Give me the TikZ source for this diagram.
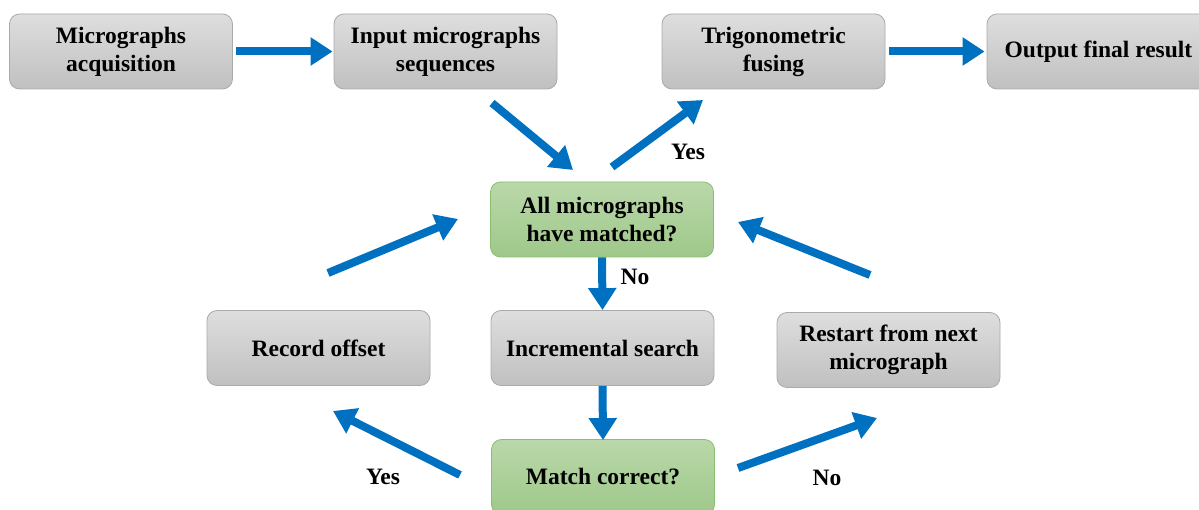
\documentclass[tikz,border=0pt]{standalone}
\usepackage{fontspec}
\setmainfont{Liberation Serif}
\usetikzlibrary{arrows.meta}
\definecolor{arrowblue}{RGB}{0,112,192}
\definecolor{graytop}{RGB}{222,222,222}
\definecolor{graybot}{RGB}{192,192,192}
\definecolor{grayline}{RGB}{170,170,170}
\definecolor{greentop}{RGB}{186,216,170}
\definecolor{greenbot}{RGB}{158,200,138}
\definecolor{greenline}{RGB}{140,190,112}
\tikzset{
  box/.style={rectangle, rounded corners=10pt, minimum width=223pt, minimum height=75pt,
    draw=grayline, line width=0.8pt, top color=graytop, bottom color=graybot,
    align=center, inner sep=2pt, font=\bfseries\fontsize{23.5pt}{28pt}\selectfont},
  gbox/.style={box, draw=greenline, top color=greentop, bottom color=greenbot},
  flow/.style={draw=arrowblue, line width=8pt, -{Triangle[width=27pt,length=22pt]}},
  lbl/.style={font=\bfseries\fontsize{23.5pt}{28pt}\selectfont, inner sep=0pt}
}
\begin{document}
\begin{tikzpicture}[x=1pt,y=-1pt]
\clip (0,0) rectangle (1199,510);
\fill[white] (0,0) rectangle (1199,510);
% nodes
\node[box] (b1) at (121,51.5) {Micrographs\\acquisition};
\node[box] (b2) at (445.5,51.5) {Input micrographs\\sequences};
\node[box] (b3) at (773.5,51.5) {Trigonometric\\fusing};
\node[box] (b4) at (1098.5,51.5) {Output final result};
\node[gbox] (all) at (602,219.5) {All micrographs\\have matched?};
\node[box] (rec) at (318.5,348) {Record offset};
\node[box] (inc) at (602.5,348) {Incremental search};
\node[box] (rst) at (888.5,350) {Restart from next\\micrograph};
\node[gbox] (match) at (603,477) {Match correct?};
% free connector ends
\coordinate (p1s) at (492,103); \coordinate (p1e) at (573,170);
\coordinate (p2s) at (612,167); \coordinate (p2e) at (703,100);
\coordinate (p3s) at (328,273); \coordinate (p3e) at (458,219);
\coordinate (p4s) at (870,275); \coordinate (p4e) at (738,222);
\coordinate (p5s) at (460,475); \coordinate (p5e) at (333,411);
\coordinate (p6s) at (738,468); \coordinate (p6e) at (877,418);
% connectors
\draw[flow, shorten <=3pt, shorten >=1pt] (b1.east) -- (b2.west);
\draw[flow, shorten <=4pt, shorten >=2pt] (b3.east) -- (b4.west);
\draw[flow] (p1s) -- (p1e);
\draw[flow] (p2s) -- (p2e);
\draw[flow] (all.south) -- (inc.north);
\draw[flow] (inc.south) -- ([yshift=-1pt]match.north);
\draw[flow] (p3s) -- (p3e);
\draw[flow] (p4s) -- (p4e);
\draw[flow] (p5s) -- (p5e);
\draw[flow] (p6s) -- (p6e);
% labels
\node[lbl] (yes1) at (688,152) {Yes};
\node[lbl] (no1) at (635,277) {No};
\node[lbl] (yes2) at (383,477) {Yes};
\node[lbl] (no2) at (827,478) {No};
\end{tikzpicture}
\end{document}
